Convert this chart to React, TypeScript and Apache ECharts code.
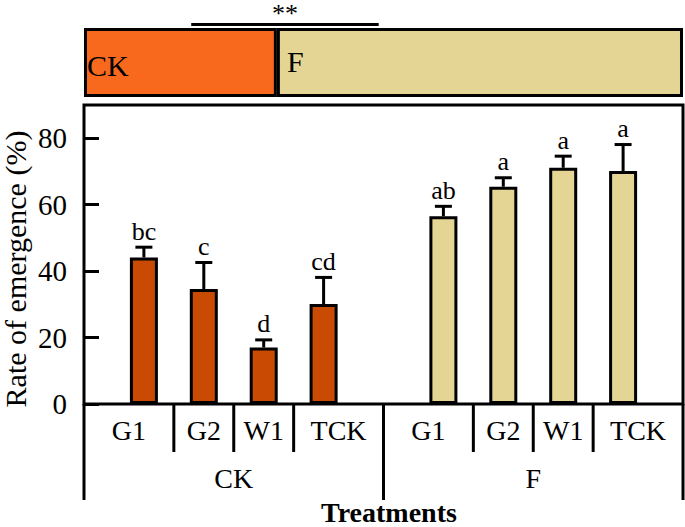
import React, { useEffect, useRef } from "react";
import * as echarts from "echarts";

// ---- data ----
const groups = ["CK", "F"];
const treatments = ["G1", "G2", "W1", "TCK"];
const ckPositions = [1, 2, 3, 4];
const fPositions = [6, 7, 8, 9];
const ckMeans = [44.1, 34.6, 17.0, 30.1];
const ckErrors = [3.1, 8.0, 2.3, 8.0];
const fMeans = [56.5, 65.4, 71.1, 70.1];
const fErrors = [3.0, 2.7, 3.5, 8.0];
const ckLetters = ["bc", "c", "d", "cd"];
const fLetters = ["ab", "a", "a", "a"];
const yTicks = [0, 20, 40, 60, 80];
const ckBoundaries = [0, 1.5, 2.5, 3.5, 5];
const fBoundaries = [5, 6.5, 7.5, 8.5, 10];
const bandShares = [32.2, 67.8];
const sigSpan = [17.9, 49.2];
const sigLabel = "**";
const yTitle = "Rate of emergence (%)";
const xTitle = "Treatments";

const FONT = "'Liberation Serif', 'Times New Roman', serif";
const CK_BAR = "#C94B03";
const F_BAR = "#E4D595";
const CK_BAND = "#F9691D";

export default function App() {
  const ref = useRef<HTMLDivElement>(null);
  useEffect(() => {
    document.body.style.margin = "0";
    if (!ref.current) return;
    const chart = echarts.init(ref.current, null, { renderer: "svg" });

    const errData = [
      ...ckPositions.map((x, i) => [x, ckMeans[i], ckMeans[i] + ckErrors[i], ckLetters[i]]),
      ...fPositions.map((x, i) => [x, fMeans[i], fMeans[i] + fErrors[i], fLetters[i]]),
    ];

    const sepData: any[] = [];
    [ckBoundaries, fBoundaries].forEach((b) => {
      b.forEach((x, i) => {
        const long = i === 0 || i === b.length - 1;
        sepData.push([x, long ? 1 : 0]);
      });
    });

    const labelData: any[] = [];
    [ckBoundaries, fBoundaries].forEach((b, g) => {
      for (let i = 0; i < b.length - 1; i++) {
        labelData.push([(b[i] + b[i + 1]) / 2, 0, treatments[i]]);
      }
      labelData.push([(b[0] + b[b.length - 1]) / 2, 1, groups[g]]);
    });

    const option: any = {
      animation: false,
      textStyle: { fontFamily: FONT, color: "#000" },
      grid: [
        {
          left: 84, top: 105, width: 599, height: 299, outerBoundsMode: "none", containLabel: false,
          show: true, borderColor: "#000", borderWidth: 3, backgroundColor: "transparent",
        },
        { left: 84, top: 28, width: 599, height: 69, outerBoundsMode: "none", containLabel: false },
      ],
      xAxis: [
        {
          gridIndex: 0, type: "value", min: 0, max: 10,
          axisLine: { show: false }, axisTick: { show: false }, axisLabel: { show: false },
          splitLine: { show: false },
        },
        {
          gridIndex: 1, type: "value", min: 0, max: 100,
          axisLine: { show: false }, axisTick: { show: false }, axisLabel: { show: false },
          splitLine: { show: false },
        },
      ],
      yAxis: [
        {
          gridIndex: 0, type: "value", min: 0, max: 90,
          axisLine: { show: false },
          axisTick: {
            show: true, inside: true, length: 15, customValues: yTicks,
            lineStyle: { color: "#000", width: 3 },
          },
          axisLabel: {
            show: true, customValues: yTicks, margin: 17,
            fontFamily: FONT, fontSize: 29, color: "#000",
          },
          splitLine: { show: false },
        },
        {
          gridIndex: 1, type: "category", data: ["band"],
          axisLine: { show: false }, axisTick: { show: false }, axisLabel: { show: false },
        },
      ],
      series: [
        {
          type: "bar", xAxisIndex: 0, yAxisIndex: 0, barWidth: 28, barGap: "-100%",
          data: ckPositions.map((x, i) => [x, ckMeans[i]]),
          itemStyle: { color: CK_BAR, borderColor: "#000", borderWidth: 3 },
        },
        {
          type: "bar", xAxisIndex: 0, yAxisIndex: 0, barWidth: 28, barGap: "-100%",
          data: fPositions.map((x, i) => [x, fMeans[i]]),
          itemStyle: { color: F_BAR, borderColor: "#000", borderWidth: 3 },
        },
        {
          type: "custom", xAxisIndex: 0, yAxisIndex: 0, clip: false, z: 5,
          data: errData,
          renderItem: (params: any, api: any) => {
            const x = api.value(0);
            const p0 = api.coord([x, api.value(1)]);
            const p1 = api.coord([x, api.value(2)]);
            const letter = errData[params.dataIndex][3];
            return {
              type: "group",
              children: [
                { type: "line", shape: { x1: p0[0], y1: p0[1], x2: p1[0], y2: p1[1] }, style: { stroke: "#000", lineWidth: 3 } },
                { type: "line", shape: { x1: p1[0] - 8.5, y1: p1[1], x2: p1[0] + 8.5, y2: p1[1] }, style: { stroke: "#000", lineWidth: 3 } },
                {
                  type: "text", x: p1[0], y: p1[1] - 3,
                  style: { text: letter, font: `26px ${FONT}`, fill: "#000", align: "center", verticalAlign: "bottom" },
                },
              ],
            };
          },
        },
        {
          type: "custom", xAxisIndex: 0, yAxisIndex: 0, clip: false, z: 5,
          data: sepData,
          renderItem: (params: any, api: any) => {
            const p = api.coord([api.value(0), 0]);
            const len = api.value(1) === 1 ? 96 : 48;
            return { type: "line", shape: { x1: p[0], y1: p[1], x2: p[0], y2: p[1] + len }, style: { stroke: "#000", lineWidth: 3 } };
          },
        },
        {
          type: "custom", xAxisIndex: 0, yAxisIndex: 0, clip: false, z: 5,
          data: labelData,
          renderItem: (params: any, api: any) => {
            const p = api.coord([api.value(0), 0]);
            const row = api.value(1);
            const txt = labelData[params.dataIndex][2];
            return {
              type: "text", x: p[0], y: p[1] + (row === 1 ? 74 : 26),
              style: { text: txt, font: `28px ${FONT}`, fill: "#000", align: "center", verticalAlign: "middle" },
            };
          },
        },
        {
          type: "bar", xAxisIndex: 1, yAxisIndex: 1, stack: "band", barWidth: 69,
          data: [bandShares[0]],
          itemStyle: { color: CK_BAND, borderColor: "#000", borderWidth: 3 },
          label: { show: true, position: "insideLeft", distance: 3, offset: [0, 3], formatter: groups[0], fontFamily: FONT, fontSize: 30, color: "#000" },
        },
        {
          type: "bar", xAxisIndex: 1, yAxisIndex: 1, stack: "band", barWidth: 69,
          data: [bandShares[1]],
          itemStyle: { color: F_BAR, borderColor: "#000", borderWidth: 3 },
          label: { show: true, position: "insideLeft", distance: 10, offset: [0, -1], formatter: groups[1], fontFamily: FONT, fontSize: 30, color: "#000" },
        },
        {
          type: "custom", xAxisIndex: 1, yAxisIndex: 1, clip: false, z: 5,
          data: [[sigSpan[0], sigSpan[1]]],
          renderItem: (params: any, api: any) => {
            const a = api.coord([api.value(0), 0]);
            const b = api.coord([api.value(1), 0]);
            const y = a[1] - 38;
            return {
              type: "group",
              children: [
                { type: "line", shape: { x1: a[0], y1: y, x2: b[0], y2: y }, style: { stroke: "#000", lineWidth: 3 } },
                {
                  type: "text", x: (a[0] + b[0]) / 2, y: 0,
                  style: { text: sigLabel, font: `26px ${FONT}`, fill: "#000", align: "center", verticalAlign: "top" },
                },
              ],
            };
          },
        },
      ],
      graphic: [
        {
          type: "text", x: 15, y: 269, rotation: Math.PI / 2,
          style: { text: yTitle, font: `30px ${FONT}`, fill: "#000", align: "center", verticalAlign: "middle" },
        },
        {
          type: "text", x: 389, y: 512,
          style: { text: xTitle, font: `bold 28px ${FONT}`, fill: "#000", align: "center", verticalAlign: "middle" },
        },
      ],
    };
    chart.setOption(option);
    return () => chart.dispose();
  }, []);
  return <div ref={ref} style={{ width: 685, height: 527 }} />;
}
